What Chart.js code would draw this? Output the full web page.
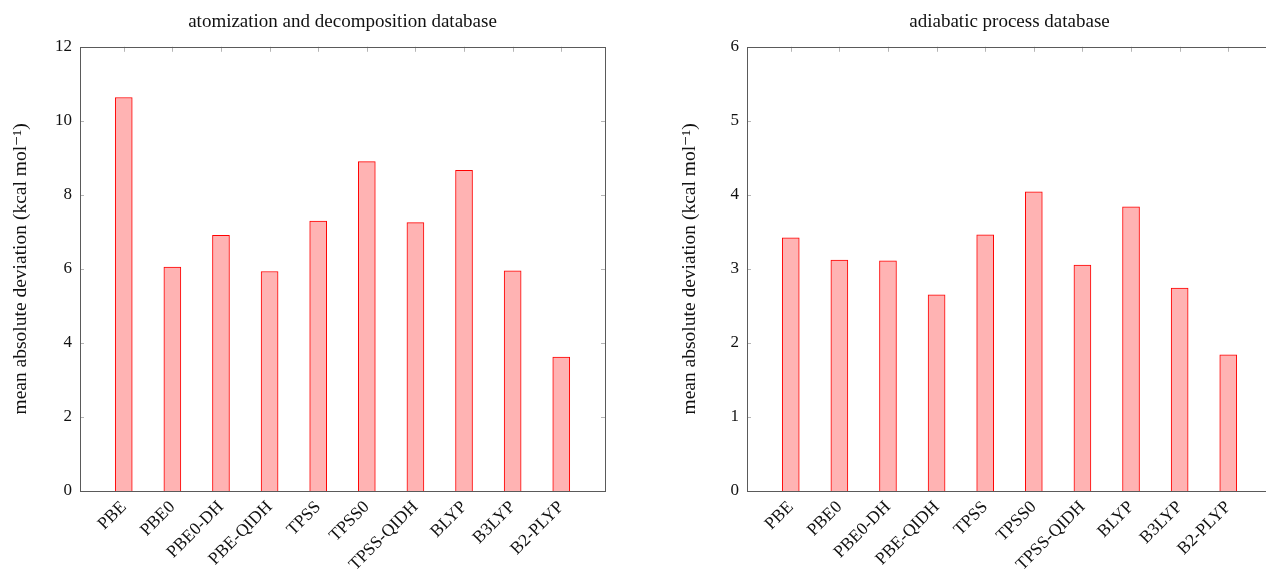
<!DOCTYPE html>
<html>
<head>
<meta charset="utf-8">
<script src="https://cdn.jsdelivr.net/npm/chart.js@4"></script>
<style>
    html, body { margin: 0; padding: 0; background: #fff; }
    body { width: 1266px; height: 580px; overflow: hidden; position: relative; }
    canvas { position: absolute; top: 0; }
    #leftChart { left: 0; }
    #rightChart { left: 630px; }
</style>
</head>
<body>
<canvas id="leftChart" width="620" height="580"></canvas>
<canvas id="rightChart" width="660" height="580"></canvas>
<script>
// Данные
const methods = ['PBE', 'PBE0', 'PBE0-DH', 'PBE-QIDH', 'TPSS', 'TPSS0', 'TPSS-QIDH', 'BLYP', 'B3LYP', 'B2-PLYP'];
const atomizationMad = [10.63, 6.05, 6.91, 5.93, 7.29, 8.90, 7.25, 8.66, 5.95, 3.62];
const adiabaticMad = [3.42, 3.12, 3.11, 2.65, 3.46, 4.04, 3.05, 3.84, 2.74, 1.84];
const atomizationTicks = [0, 2, 4, 6, 8, 10, 12];
const adiabaticTicks = [0, 1, 2, 3, 4, 5, 6];

const FONT = "'Liberation Serif', 'DejaVu Serif', serif";
const yTitle = 'mean absolute deviation (kcal mol\u207B\u00B9)';

// Рамка и внутренние засечки, как в pgfplots
const framePlugin = {
    id: 'frame',
    afterDatasetsDraw(chart) {
        const ctx = chart.ctx;
        const area = chart.chartArea;
        const x = chart.scales.x;
        const y = chart.scales.y;
        ctx.save();
        ctx.lineWidth = 1;
        ctx.strokeStyle = '#b5b5b5';
        ctx.beginPath();
        y.ticks.forEach(t => {
            const py = Math.round(y.getPixelForValue(t.value)) + 0.5;
            ctx.moveTo(area.left, py);
            ctx.lineTo(area.left + 4, py);
            ctx.moveTo(area.right, py);
            ctx.lineTo(area.right - 4, py);
        });
        x.ticks.forEach(t => {
            const px = Math.round(x.getPixelForValue(t.value)) + 0.5;
            ctx.moveTo(px, area.top);
            ctx.lineTo(px, area.top + 5);
        });
        ctx.stroke();
        ctx.strokeStyle = '#5a5a5a';
        ctx.strokeRect(Math.round(area.left) + 0.5, Math.round(area.top) + 0.5,
            Math.round(area.right - area.left), Math.round(area.bottom - area.top));
        ctx.restore();
    }
};

function buildChart(canvasId, title, values, yTicks, yWidth, yTitlePad, rightPad) {
    const ctx = document.getElementById(canvasId).getContext('2d');
    return new Chart(ctx, {
        type: 'bar',
        data: {
            datasets: [{
                data: values.map((v, i) => ({ x: i, y: v })),
                backgroundColor: 'rgb(255, 179, 179)',
                borderColor: 'rgb(255, 0, 0)',
                borderWidth: 1,
                barThickness: 17
            }]
        },
        options: {
            responsive: false,
            animation: false,
            devicePixelRatio: 1,
            layout: { padding: { top: 0, right: rightPad, bottom: 0, left: 0 } },
            plugins: {
                legend: { display: false },
                tooltip: { enabled: false },
                title: {
                    display: true,
                    fullSize: false,
                    text: title,
                    color: '#111',
                    font: { family: FONT, size: 19, weight: 'normal' },
                    padding: { top: 11, bottom: 13 }
                }
            },
            scales: {
                x: {
                    type: 'linear',
                    offset: false,
                    min: -0.9,
                    max: 9.9,
                    grid: { display: false, drawTicks: false, offset: false },
                    border: { display: false },
                    afterBuildTicks: scale => {
                        scale.ticks = methods.map((m, i) => ({ value: i }));
                    },
                    afterFit: scale => { scale.height = 89; },
                    ticks: {
                        autoSkip: false,
                        minRotation: 45,
                        maxRotation: 45,
                        padding: 6,
                        color: '#111',
                        font: { family: FONT, size: 17.5 },
                        callback: value => methods[value]
                    }
                },
                y: {
                    min: yTicks[0],
                    max: yTicks[yTicks.length - 1],
                    grid: { display: false, drawTicks: false },
                    border: { display: false },
                    afterBuildTicks: scale => {
                        scale.ticks = yTicks.map(v => ({ value: v }));
                    },
                    afterFit: scale => { scale.width = yWidth; },
                    ticks: {
                        padding: 8,
                        color: '#111',
                        font: { family: FONT, size: 17 }
                    },
                    title: {
                        display: true,
                        text: yTitle,
                        color: '#111',
                        font: { family: FONT, size: 19.5 },
                        padding: { top: yTitlePad, bottom: 0 }
                    }
                }
            }
        },
        plugins: [framePlugin]
    });
}

buildChart('leftChart', 'atomization and decomposition database', atomizationMad, atomizationTicks, 80, 9, 15);
buildChart('rightChart', 'adiabatic process database', adiabaticMad, adiabaticTicks, 117, 48, 18);
</script>
</body>
</html>
